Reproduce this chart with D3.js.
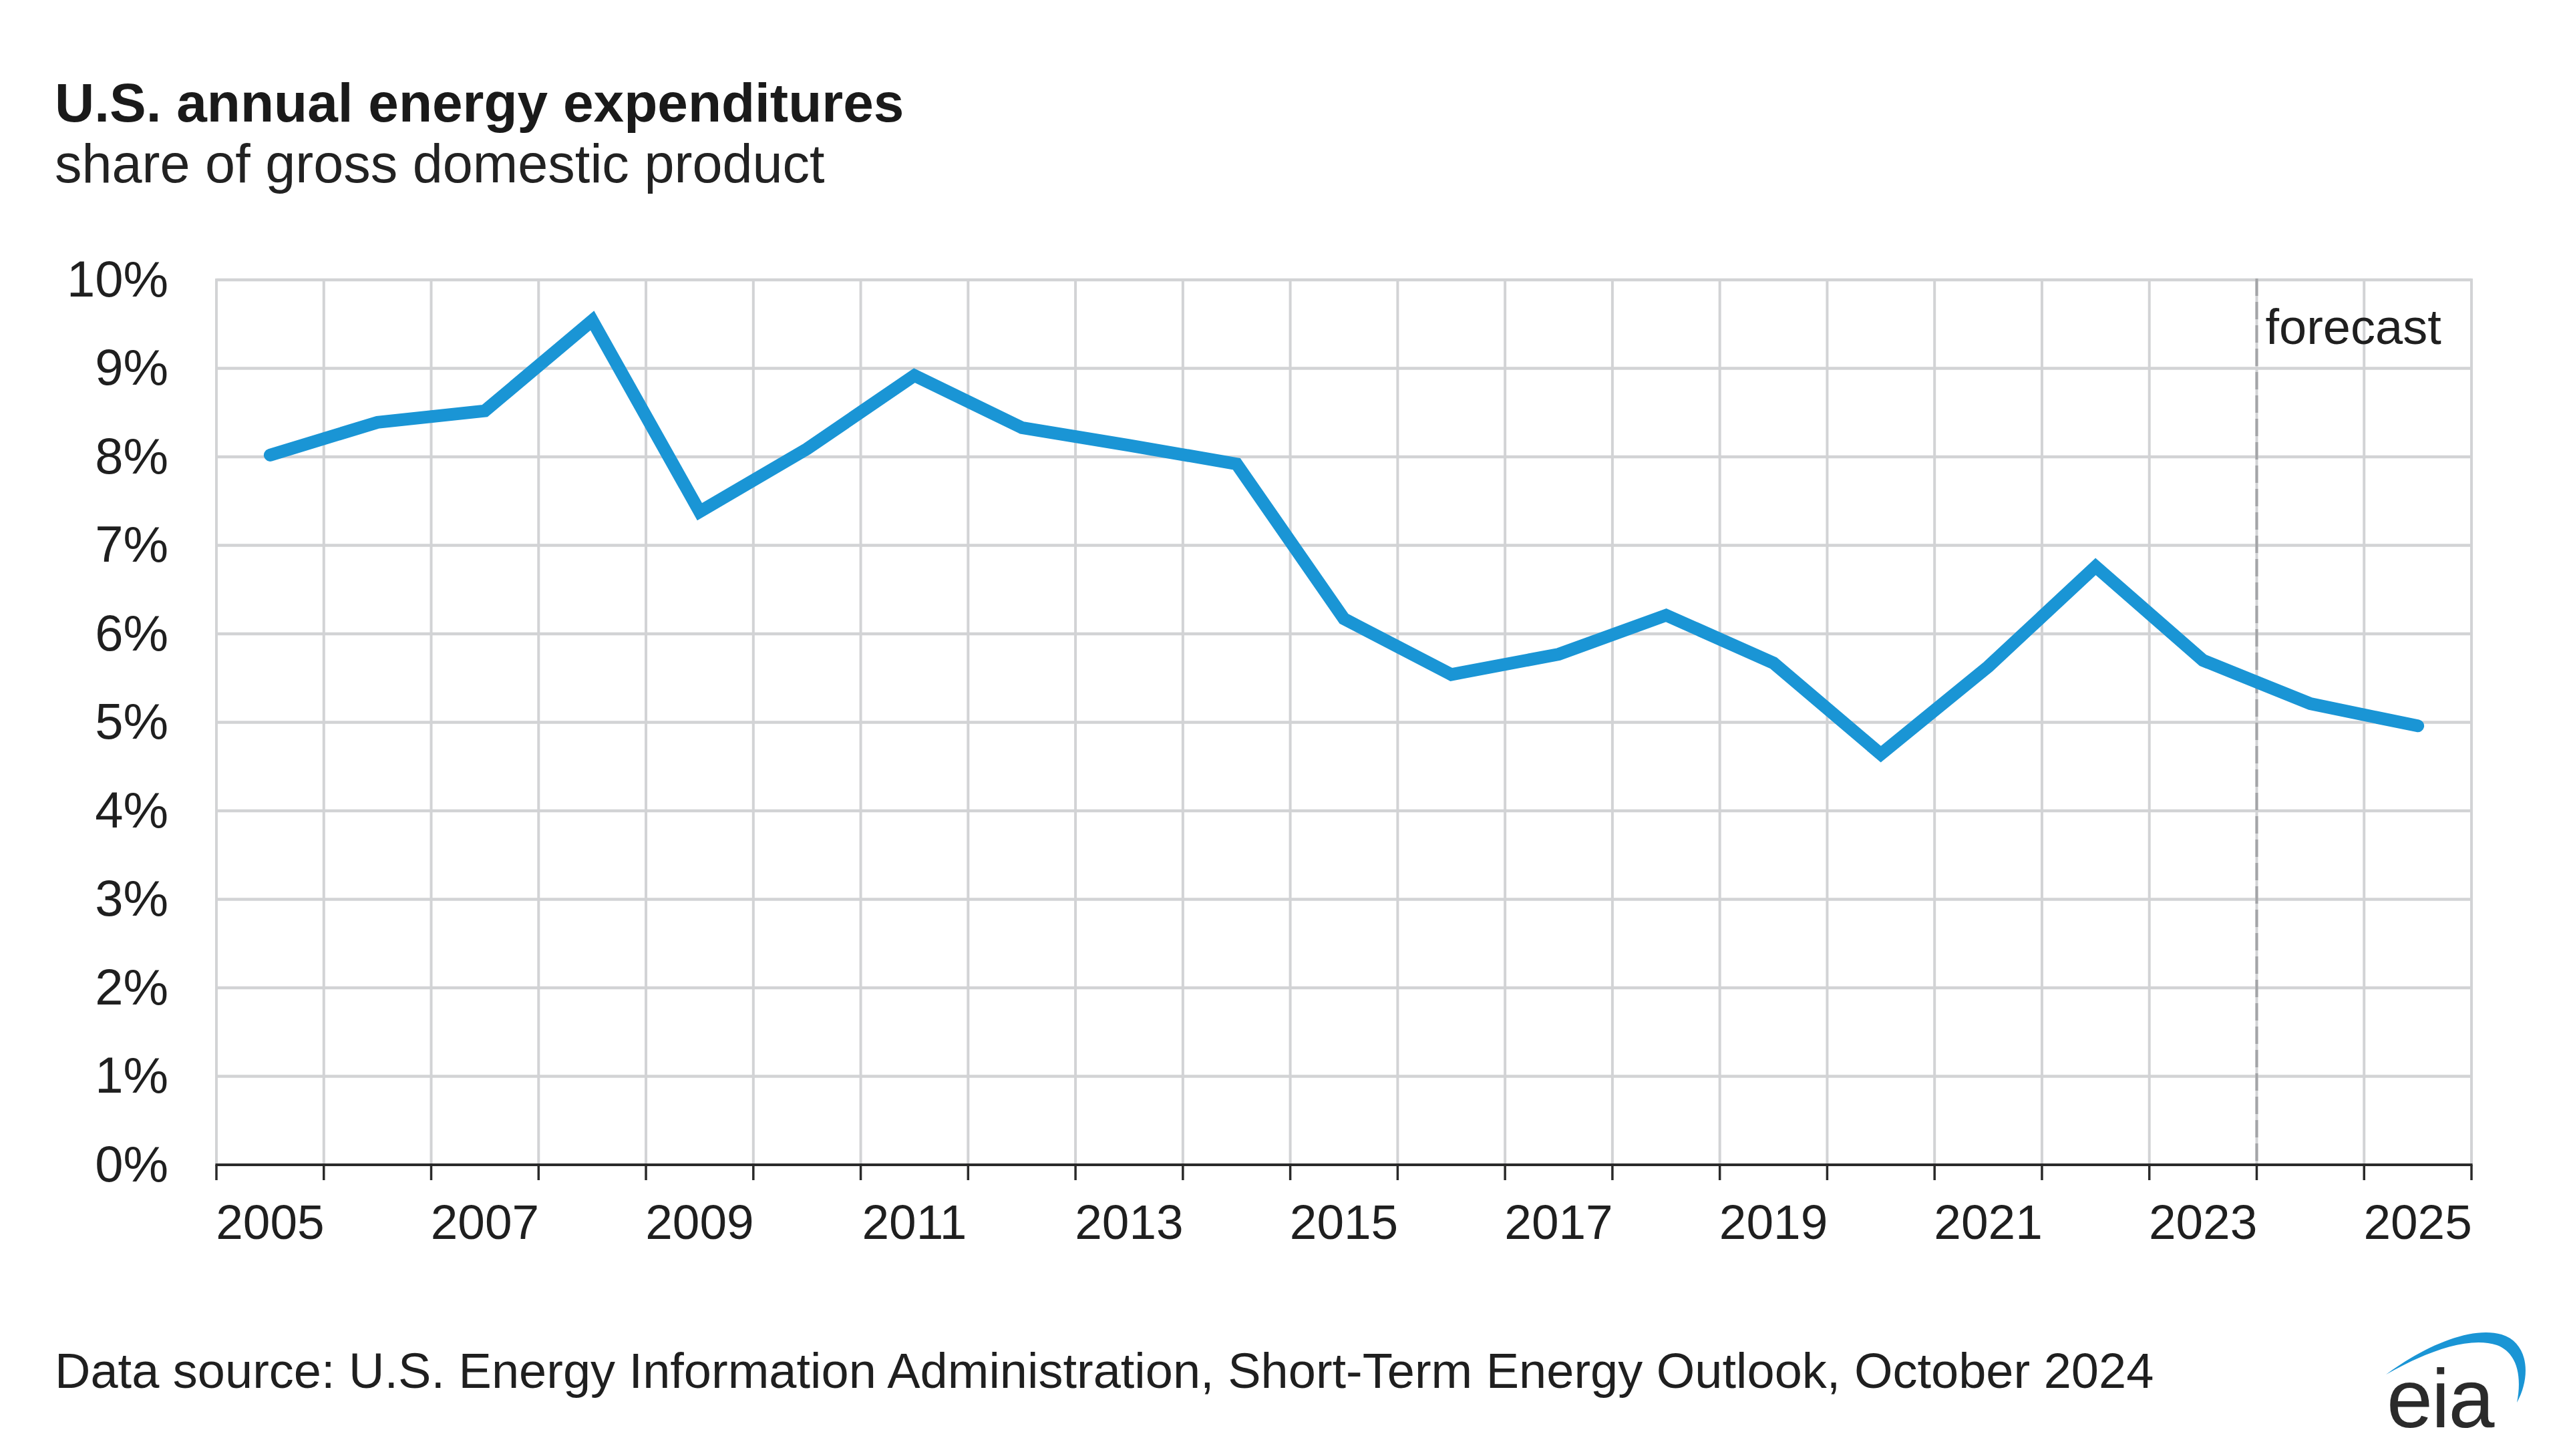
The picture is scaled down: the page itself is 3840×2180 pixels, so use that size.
<!DOCTYPE html>
<html>
<head>
<meta charset="utf-8">
<script src="https://cdn.jsdelivr.net/npm/d3@7"></script>
<style>
  html, body { margin: 0; padding: 0; background: #ffffff; }
  svg { display: block; }
  text { font-family: "Liberation Sans", Arial, Helvetica, sans-serif; }
</style>
</head>
<body>
<svg id="chart" width="3840" height="2180"></svg>
<script>
// ---- data ----
const years = [2005, 2006, 2007, 2008, 2009, 2010, 2011, 2012, 2013, 2014, 2015,
               2016, 2017, 2018, 2019, 2020, 2021, 2022, 2023, 2024, 2025];
const shareOfGDP = [8.02, 8.39, 8.52, 9.54, 7.38, 8.09, 8.92, 8.33, 8.13, 7.92, 6.17,
                    5.54, 5.77, 6.21, 5.67, 4.64, 5.63, 6.76, 5.70, 5.21, 4.96];
const yTicks = [0, 1, 2, 3, 4, 5, 6, 7, 8, 9, 10];
const xLabelYears = [2005, 2007, 2009, 2011, 2013, 2015, 2017, 2019, 2021, 2023, 2025];
const forecastStartYear = 2024;
const titleText = "U.S. annual energy expenditures";
const subtitleText = "share of gross domestic product";
const sourceText = "Data source: U.S. Energy Information Administration, Short-Term Energy Outlook, October 2024";
const forecastLabel = "forecast";

(function () {
// ---- layout ----
const svg = d3.select("#chart");
const pL = 324, pR = 3700, pT = 419, pB = 1744;
const gridColor = "#d2d3d5";
const textColor = "#1f1f1f";
const lineColor = "#1a95d5";

const x = d3.scaleBand().domain(years).range([pL, pR]).paddingInner(0).paddingOuter(0);
const y = d3.scaleLinear().domain([0, 10]).range([pB, pT]);
const bw = x.bandwidth();
const boundaries = years.map(d => x(d)).concat([x.range()[1]]);

// title
svg.append("text").attr("x", 82).attr("y", 182)
  .attr("font-size", 82).attr("font-weight", "bold").attr("fill", "#1a1a1a")
  .text(titleText);
svg.append("text").attr("x", 82).attr("y", 273)
  .attr("font-size", 81).attr("fill", "#222")
  .text(subtitleText);

// horizontal gridlines
svg.append("g").selectAll("line").data(yTicks.filter(t => t > 0)).join("line")
  .attr("x1", pL).attr("x2", pR)
  .attr("y1", d => y(d)).attr("y2", d => y(d))
  .attr("stroke", gridColor).attr("stroke-width", 4.5);

// vertical gridlines
svg.append("g").selectAll("line").data(boundaries).join("line")
  .attr("x1", d => d).attr("x2", d => d)
  .attr("y1", pT - 2).attr("y2", pB)
  .attr("stroke", gridColor).attr("stroke-width", 4);

// forecast divider
const fx = x(forecastStartYear);
svg.append("line")
  .attr("x1", fx).attr("x2", fx).attr("y1", pT - 2).attr("y2", pB)
  .attr("stroke", "#a3a4a7").attr("stroke-width", 4)
  .attr("stroke-dasharray", "26,9");
svg.append("text").attr("x", fx + 13).attr("y", 515)
  .attr("font-size", 74).attr("fill", textColor)
  .text(forecastLabel);

// y axis labels
const yAxis = d3.axisLeft(y).tickValues(yTicks).tickSize(0).tickPadding(72)
  .tickFormat(d => d + "%");
const gy = svg.append("g").attr("transform", `translate(${pL},0)`).call(yAxis);
gy.select(".domain").remove();
gy.selectAll("text").attr("font-size", 76).attr("fill", textColor)
  .attr("font-family", '"Liberation Sans", Arial, sans-serif');

// x axis labels
const xAxis = d3.axisBottom(x).tickValues(xLabelYears).tickSize(0).tickFormat(d => String(d));
const gx = svg.append("g").attr("transform", `translate(0,${pB})`).call(xAxis);
gx.select(".domain").remove();
gx.selectAll("text").attr("font-size", 73).attr("fill", textColor)
  .attr("font-family", '"Liberation Sans", Arial, sans-serif')
  .attr("dy", null).attr("y", 111);

// x axis line and tick marks at band boundaries
svg.append("line").attr("x1", pL - 1.5).attr("x2", pR + 1.5)
  .attr("y1", pB).attr("y2", pB)
  .attr("stroke", "#2a2a2a").attr("stroke-width", 4);
svg.append("g").selectAll("line").data(boundaries).join("line")
  .attr("x1", d => d).attr("x2", d => d)
  .attr("y1", pB).attr("y2", pB + 23)
  .attr("stroke", "#2a2a2a").attr("stroke-width", 3.5);

// data line
const line = d3.line()
  .x((d, i) => x(years[i]) + bw / 2)
  .y(d => y(d));
svg.append("path").datum(shareOfGDP)
  .attr("d", line)
  .attr("fill", "none").attr("stroke", lineColor)
  .attr("stroke-width", 19).attr("stroke-linejoin", "miter")
  .attr("stroke-miterlimit", 6).attr("stroke-linecap", "round");

// footer
svg.append("text").attr("x", 82).attr("y", 2078)
  .attr("font-size", 74).attr("fill", textColor)
  .text(sourceText);

// eia logo
const logo = svg.append("g");
logo.append("path")
  .attr("d", "M3572,2058 C3630,2015 3700,1985 3745,1998 C3785,2010 3790,2060 3768,2100 C3776,2060 3768,2025 3738,2014 C3695,2000 3630,2025 3572,2058 Z")
  .attr("fill", "#1a95d5");
logo.append("text").attr("x", 3573).attr("y", 2137)
  .attr("font-size", 124).attr("fill", "#2b2b2b")
  .attr("font-family", '"Open Sans", "Liberation Sans", Arial, sans-serif')
  .attr("font-weight", 500).attr("letter-spacing", -2)
  .text("eia");
})();
</script>
</body>
</html>
